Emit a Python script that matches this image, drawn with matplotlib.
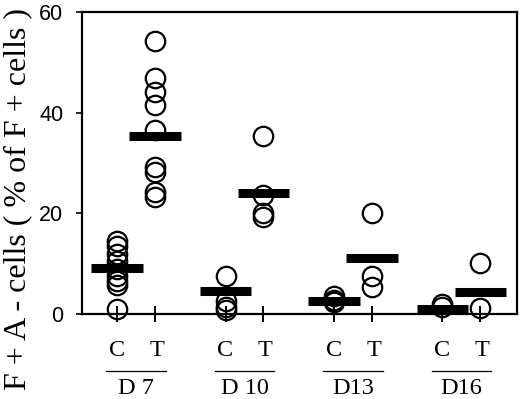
import numpy as np
import matplotlib
matplotlib.use("Agg")
import matplotlib.pyplot as plt
from matplotlib.transforms import blended_transform_factory

# ---- data ----
groups = ["D 7", "D 10", "D13", "D16"]
conditions = ["C", "T"]
d7_c = [14.5, 13.5, 12.0, 10.5, 9.0, 7.5, 6.5, 5.8, 1.0]
d7_t = [54.3, 46.8, 44.2, 41.5, 36.6, 29.3, 28.3, 24.3, 23.3]
d10_c = [7.6, 2.6, 1.3, 0.8]
d10_t = [35.4, 23.6, 20.0, 19.3]
d13_c = [3.6, 2.8, 2.4]
d13_t = [20.0, 7.5, 5.4]
d16_c = [2.0, 1.4]
d16_t = [10.2, 1.1]
bar_c = [9.1, 4.6, 2.6, 1.0]
bar_t = [35.4, 24.1, 11.1, 4.3]
y_ticks = [0, 20, 40, 60]

series_c = [d7_c, d10_c, d13_c, d16_c]
series_t = [d7_t, d10_t, d13_t, d16_t]

# ---- layout ----
W, H, DPI = 520, 399, 100
fig = plt.figure(figsize=(W / DPI, H / DPI), dpi=DPI)
ax = fig.add_axes([82 / W, (H - 314) / H, (517 - 82) / W, (314 - 12) / H])

group_step = 3.0
ct_offset = 1.05
pos_c = np.arange(len(groups)) * group_step
pos_t = pos_c + ct_offset
bar_half = 0.71

for x, vals in list(zip(pos_c, series_c)) + list(zip(pos_t, series_t)):
    ax.plot([x] * len(vals), vals, linestyle="none", marker="o", ms=14,
            mfc="none", mec="black", mew=1.6, zorder=3, clip_on=False)

for x, v in list(zip(pos_c, bar_c)) + list(zip(pos_t, bar_t)):
    ax.hlines(v, x - bar_half, x + bar_half, colors="black", lw=6.5,
              zorder=4, capstyle="butt")

ax.set_xlim(-0.968, 11.06)
ax.set_ylim(0, 60)
ax.set_yticks(y_ticks)
ax.set_yticklabels([str(t) for t in y_ticks], fontfamily="Liberation Sans",
                   fontsize=15.5)
ax.tick_params(axis="y", direction="out", length=4.5, width=1.2, pad=9)

xt = np.sort(np.concatenate([pos_c, pos_t]))
ax.set_xticks(xt)
ax.set_xticklabels([])
ax.tick_params(axis="x", direction="inout", length=12, width=1.4)

for s in ax.spines.values():
    s.set_linewidth(1.6)

trans = blended_transform_factory(ax.transData, ax.transAxes)
serif = "Liberation Serif"
for i, g in enumerate(groups):
    ax.text(pos_c[i], -0.139, conditions[0], transform=trans, ha="center",
            va="baseline", fontfamily=serif, fontsize=17.5)
    ax.text(pos_t[i] + 0.05, -0.139, conditions[1], transform=trans,
            ha="center", va="baseline", fontfamily=serif, fontsize=17.5)
    mid = (pos_c[i] + pos_t[i]) / 2
    ax.plot([mid - 0.82, mid + 0.82], [-0.188, -0.188], transform=trans,
            color="black", lw=0.9, clip_on=False)
    ax.text(mid, -0.265, g, transform=trans, ha="center", va="baseline",
            fontfamily=serif, fontsize=17.5)

fig.text(25 / W, 0.5, "F + A - cells ( % of F + cells )", rotation=90,
         rotation_mode="anchor", ha="center", va="baseline",
         fontfamily=serif, fontsize=23)

fig.savefig("out.png", dpi=DPI)
